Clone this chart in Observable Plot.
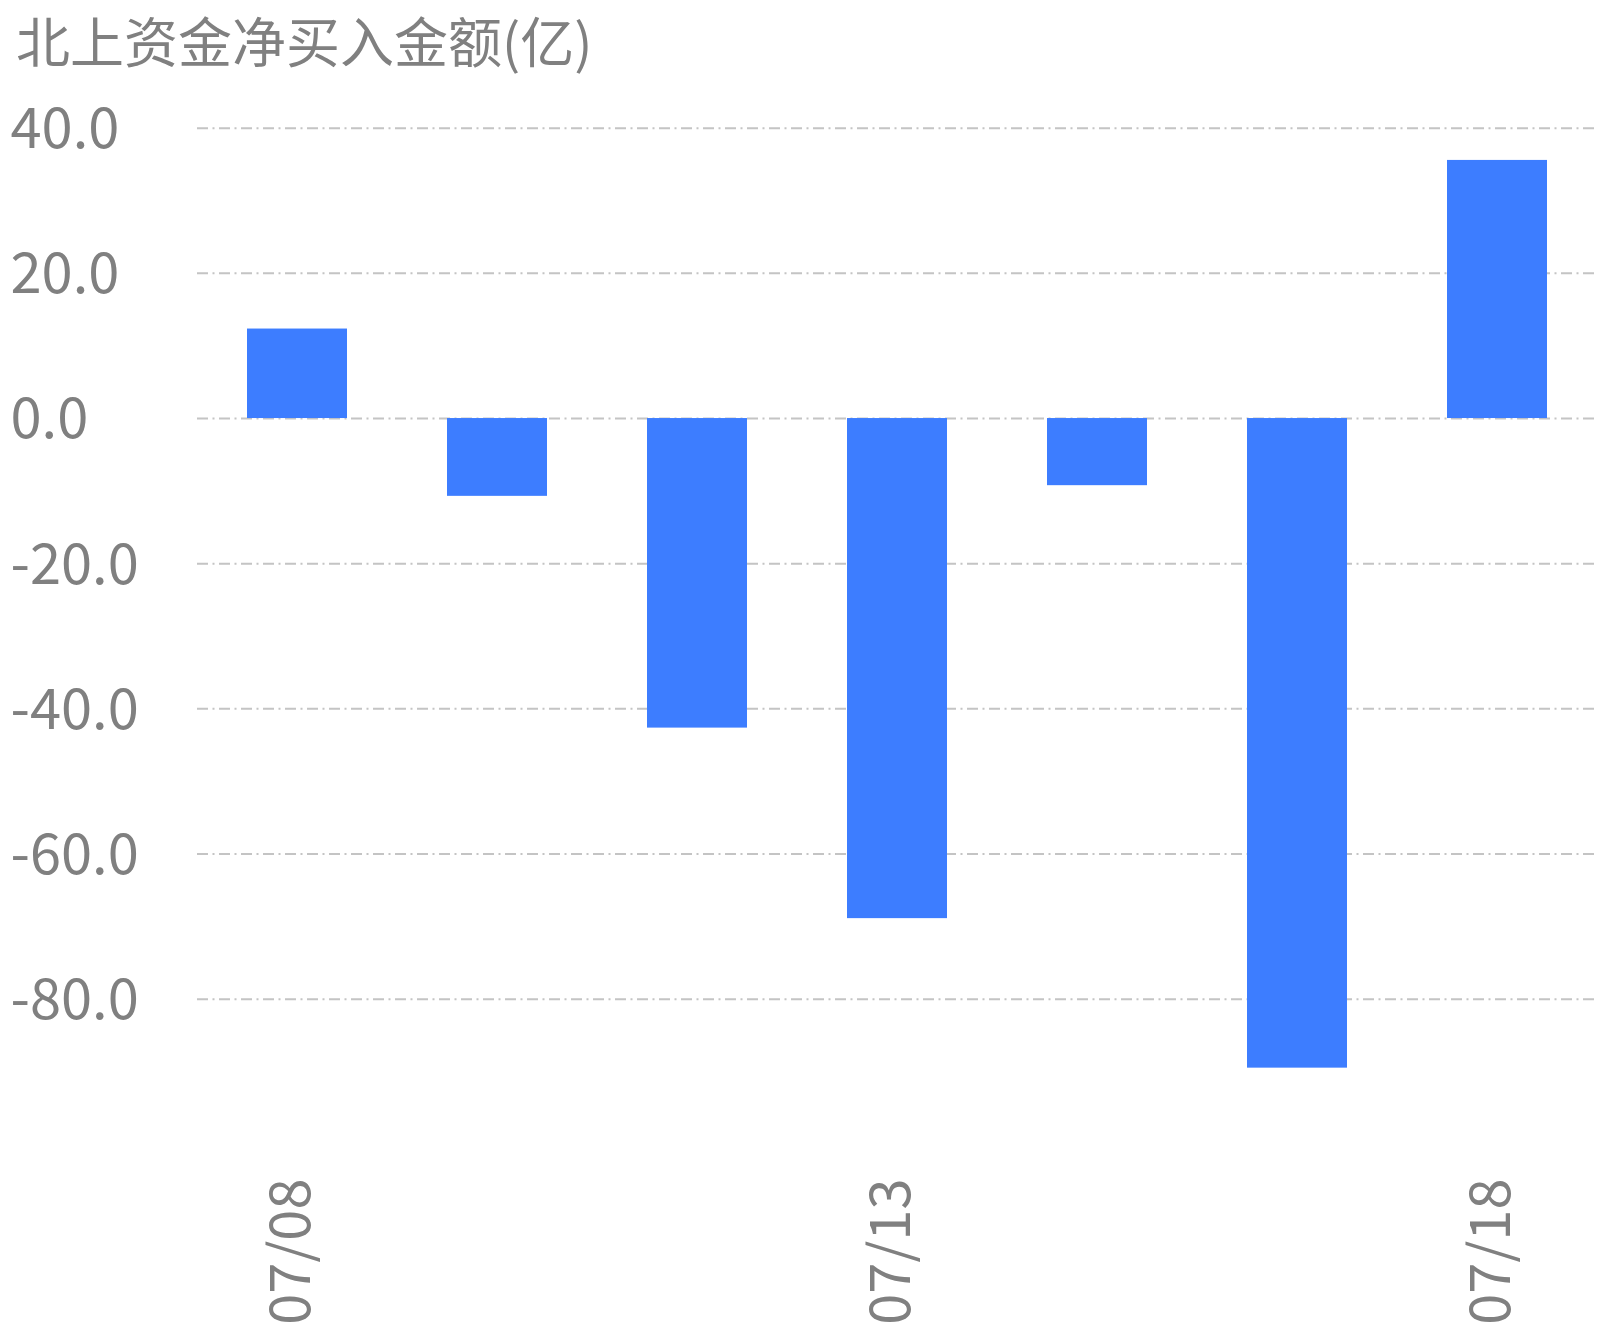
<!DOCTYPE html>
<html>
<head>
<meta charset="utf-8">
<script src="https://cdn.jsdelivr.net/npm/d3@7"></script>
<script src="https://cdn.jsdelivr.net/npm/@observablehq/plot@0.6"></script>
<style>
  html, body { margin: 0; padding: 0; background: #fff; }
  #title { font-family: "Noto Sans CJK SC", "Noto Sans", sans-serif; font-size: 54px; line-height: normal; height: 72px; color: #808080; padding-left: 16px; white-space: nowrap; overflow: visible; }
  svg { display: block; }
</style>
</head>
<body>
<div id="title">北上资金净买入金额(亿)</div>
<div id="chart"></div>
<script>
const dates = ["07/08", "07/11", "07/12", "07/13", "07/14", "07/15", "07/18"];
const values = [12.33, -10.72, -42.65, -68.9, -9.25, -89.5, 35.56];
const yTicks = [40, 20, 0, -20, -40, -60, -80];
const xTickLabels = ["07/08", "07/13", "07/18"];

const data = dates.map((d, i) => ({date: d, value: values[i]}));
const font = '"Noto Sans CJK SC", "Noto Sans", sans-serif';
const gray = "#808080";

const W = 1606, H = 1258, ML = 197, MR = 9;

const chart = Plot.plot({
  width: W,
  height: H,
  marginLeft: ML,
  marginRight: MR,
  marginTop: 20,
  marginBottom: 152,
  style: {fontFamily: font, background: "#fff"},
  x: {type: "band", domain: dates, paddingInner: 0.5, paddingOuter: 0.25, axis: null},
  y: {domain: [-80, 40], range: [926.7, 55.7], axis: null},
  marks: [
    Plot.ruleY(yTicks, {stroke: "#c4c4c4", strokeWidth: 2, strokeDasharray: "11,4.5,2,4.5"}),
    Plot.barY(data, {x: "date", y: "value", fill: "#3d7dff"}),
    Plot.text(yTicks, {
      y: d => d, text: d => d.toFixed(1), frameAnchor: "left", textAnchor: "start",
      dx: 10 - ML, dy: 2, fontSize: 56, fill: gray, lineAnchor: "middle"
    }),
    Plot.text(xTickLabels, {
      x: d => d, text: d => d, frameAnchor: "bottom", rotate: -90, textAnchor: "end",
      lineAnchor: "middle", dx: -5, fontSize: 56, fill: gray
    })
  ]
});
document.getElementById("chart").appendChild(chart);
</script>
</body>
</html>
